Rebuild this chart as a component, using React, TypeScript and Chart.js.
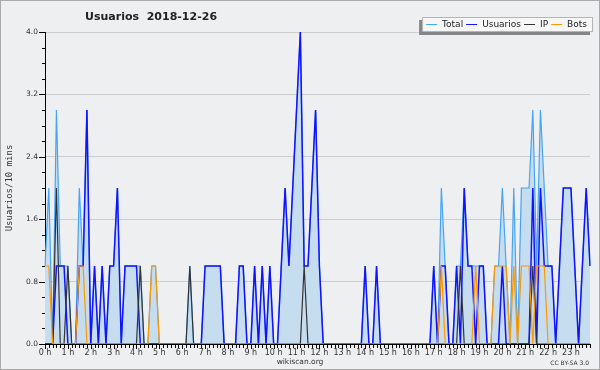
import React, { useEffect, useRef } from 'react';
import { Chart, registerables } from 'chart.js';

Chart.register(...registerables);

// ---- data (one value per 10 minutes, 24 rows of 6) ----
const hourLabels = Array.from({ length: 24 }, (_, h) => `${h} h`);
const slotLabels = Array.from({ length: 144 }, (_, i) => `${Math.floor(i / 6)}:${(i % 6) * 10}`);

const total = [
  1, 2, 0, 3, 1, 1,
  1, 0, 0, 2, 1, 3,
  0, 1, 0, 1, 0, 1,
  1, 2, 0, 1, 1, 1,
  1, 1, 0, 0, 1, 1,
  0, 0, 0, 0, 0, 0,
  0, 0, 1, 0, 0, 0,
  1, 1, 1, 1, 1, 0,
  0, 0, 0, 1, 1, 0,
  0, 1, 0, 1, 0, 1,
  0, 0, 1, 2, 1, 2,
  3, 4, 1, 1, 2, 3,
  1, 0, 0, 0, 0, 0,
  0, 0, 0, 0, 0, 0,
  1, 0, 0, 1, 0, 0,
  0, 0, 0, 0, 0, 0,
  0, 0, 0, 0, 0, 0,
  1, 0, 2, 1, 0, 0,
  1, 1, 2, 1, 1, 1,
  1, 1, 0, 0, 1, 1,
  2, 1, 0, 2, 0, 2,
  2, 2, 3, 1, 3, 2,
  1, 1, 0, 1, 2, 2,
  2, 1, 0, 1, 2, 1,
];

const usuarios = [
  0, 0, 0, 1, 1, 1,
  0, 0, 0, 1, 1, 3,
  0, 1, 0, 1, 0, 1,
  1, 2, 0, 1, 1, 1,
  1, 0, 0, 0, 0, 0,
  0, 0, 0, 0, 0, 0,
  0, 0, 0, 0, 0, 0,
  1, 1, 1, 1, 1, 0,
  0, 0, 0, 1, 1, 0,
  0, 1, 0, 1, 0, 1,
  0, 0, 1, 2, 1, 2,
  3, 4, 1, 1, 2, 3,
  1, 0, 0, 0, 0, 0,
  0, 0, 0, 0, 0, 0,
  1, 0, 0, 1, 0, 0,
  0, 0, 0, 0, 0, 0,
  0, 0, 0, 0, 0, 0,
  1, 0, 1, 1, 0, 0,
  1, 0, 2, 1, 1, 0,
  1, 1, 0, 0, 0, 0,
  1, 0, 0, 0, 0, 0,
  0, 0, 2, 0, 2, 1,
  1, 1, 0, 1, 2, 2,
  2, 1, 0, 1, 2, 1,
];

const ip = [
  0, 0, 0, 2, 0, 0,
  1, 0, 0, 0, 0, 0,
  0, 0, 0, 0, 0, 0,
  0, 0, 0, 0, 0, 0,
  0, 1, 0, 0, 0, 0,
  0, 0, 0, 0, 0, 0,
  0, 0, 1, 0, 0, 0,
  0, 0, 0, 0, 0, 0,
  0, 0, 0, 0, 0, 0,
  0, 0, 0, 0, 0, 0,
  0, 0, 0, 0, 0, 0,
  0, 0, 1, 0, 0, 0,
  0, 0, 0, 0, 0, 0,
  0, 0, 0, 0, 0, 0,
  0, 0, 0, 0, 0, 0,
  0, 0, 0, 0, 0, 0,
  0, 0, 0, 0, 0, 0,
  0, 0, 0, 0, 0, 0,
  0, 1, 0, 0, 0, 0,
  0, 0, 0, 0, 0, 0,
  0, 0, 0, 0, 0, 0,
  0, 0, 1, 0, 0, 0,
  0, 0, 0, 0, 0, 0,
  0, 0, 0, 0, 0, 0,
];

const bots = [
  1, 1, 0, 0, 0, 0,
  0, 0, 0, 1, 1, 0,
  0, 0, 0, 0, 0, 0,
  0, 0, 0, 0, 0, 0,
  0, 0, 0, 0, 1, 1,
  0, 0, 0, 0, 0, 0,
  0, 0, 0, 0, 0, 0,
  0, 0, 0, 0, 0, 0,
  0, 0, 0, 0, 0, 0,
  0, 0, 0, 0, 0, 0,
  0, 0, 0, 0, 0, 0,
  0, 0, 0, 0, 0, 0,
  0, 0, 0, 0, 0, 0,
  0, 0, 0, 0, 0, 0,
  0, 0, 0, 0, 0, 0,
  0, 0, 0, 0, 0, 0,
  0, 0, 0, 0, 0, 0,
  0, 0, 1, 0, 0, 0,
  0, 0, 0, 0, 0, 1,
  0, 0, 0, 0, 1, 1,
  1, 1, 0, 1, 0, 1,
  1, 1, 0, 1, 1, 1,
  0, 0, 0, 0, 0, 0,
  0, 0, 0, 0, 0, 0,
];

const seriesNames = ['Total', 'Usuarios', 'IP', 'Bots'];
const Y_MAX = 4;
const Y_MAJOR = 0.8;
const Y_MINOR = 0.2;
const TITLE = 'Usuarios  2018-12-26';
const Y_TITLE = 'Usuarios/10 mins';
const FOOTER = 'wikiscan.org';
const LICENSE = 'CC BY-SA 3.0';

const BG = '#eeeff1';
const COLORS = ['#45a4f6', '#1212ff', '#333333', '#ff9900'];
const FILL = '#c6dcef';

const decorPlugin = {
  id: 'decor',
  beforeDraw(chart: any) {
    const { ctx, width, height } = chart;
    ctx.save();
    ctx.fillStyle = BG;
    ctx.fillRect(0, 0, width, height);
    ctx.restore();
  },
  afterDraw(chart: any) {
    const { ctx, chartArea, scales, width, height } = chart;
    const xs = scales.x;
    const ys = scales.y;
    ctx.save();
    // tick marks
    ctx.strokeStyle = '#000';
    ctx.lineWidth = 1;
    ctx.beginPath();
    const nMinor = Math.round(Y_MAX / Y_MINOR);
    const perMajor = Math.round(Y_MAJOR / Y_MINOR);
    for (let k = 0; k <= nMinor; k++) {
      const y = Math.round(ys.getPixelForValue(k * Y_MINOR)) + 0.5;
      const len = k % perMajor === 0 ? 6 : 3;
      ctx.moveTo(chartArea.left - len, y);
      ctx.lineTo(chartArea.left, y);
    }
    for (let i = 0; i < slotLabels.length; i++) {
      const x = Math.round(xs.getPixelForValue(i)) + 0.5;
      const len = i % 6 === 0 ? 5 : 4;
      ctx.moveTo(x, chartArea.bottom);
      ctx.lineTo(x, chartArea.bottom + len);
    }
    ctx.stroke();

    // title
    ctx.fillStyle = '#222';
    ctx.font = 'bold 11px "DejaVu Sans"';
    ctx.textBaseline = 'alphabetic';
    ctx.textAlign = 'left';
    ctx.fillText(TITLE, 85, 20);

    // legend
    ctx.font = '9px "DejaVu Sans"';
    const sampleW = 11, gap1 = 5, gap2 = 3;
    const items = chart.data.datasets.map((d: any) => ({ label: d.label, color: d.borderColor }));
    let contentW = 0;
    items.forEach((it: any, idx: number) => {
      contentW += sampleW + gap1 + ctx.measureText(it.label).width + (idx < items.length - 1 ? gap2 : 0);
    });
    const bw = contentW + 10;
    const bh = 15;
    const bx = 593 - bw;
    const by = 17;
    ctx.fillStyle = '#858585';
    ctx.fillRect(bx - 3, by + 3, bw, bh);
    ctx.fillStyle = '#f7f7f7';
    ctx.fillRect(bx, by, bw, bh);
    ctx.strokeStyle = '#b4b4b4';
    ctx.strokeRect(bx + 0.5, by + 0.5, bw - 1, bh - 1);
    let cx = bx + 4;
    const cy = by + 8;
    ctx.textBaseline = 'middle';
    items.forEach((it: any) => {
      ctx.strokeStyle = it.color;
      ctx.lineWidth = 1;
      ctx.beginPath();
      ctx.moveTo(cx, cy - 0.5);
      ctx.lineTo(cx + sampleW, cy - 0.5);
      ctx.stroke();
      cx += sampleW + gap1;
      ctx.fillStyle = '#222';
      ctx.fillText(it.label, cx, cy);
      cx += ctx.measureText(it.label).width + gap2;
    });

    // footer
    ctx.textBaseline = 'alphabetic';
    ctx.fillStyle = '#333';
    ctx.font = '7.5px "DejaVu Sans"';
    ctx.textAlign = 'center';
    ctx.fillText(FOOTER, 300, 364);
    ctx.font = '6px "DejaVu Sans"';
    ctx.textAlign = 'right';
    ctx.fillText(LICENSE, 589, 365);

    // outer border
    ctx.strokeStyle = '#aaaaaa';
    ctx.lineWidth = 1;
    ctx.strokeRect(0.5, 0.5, width - 1, height - 1);
    ctx.restore();
  },
};

export default function App() {
  const ref = useRef<HTMLCanvasElement | null>(null);

  useEffect(() => {
    document.body.style.margin = '0';
    const canvas = ref.current;
    if (!canvas) return;
    Chart.defaults.font.family = '"DejaVu Sans"';
    const seriesData = [total, usuarios, ip, bots];
    const chart = new Chart(canvas, {
      type: 'line',
      data: {
        labels: slotLabels,
        datasets: seriesData.map((d, k) => ({
          label: seriesNames[k],
          data: d,
          borderColor: COLORS[k],
          backgroundColor: k === 0 ? FILL : COLORS[k],
          fill: k === 0 ? 'origin' : false,
          borderWidth: k === 1 ? 1.5 : 1.2,
          pointRadius: 0,
          tension: 0,
          order: 4 - k,
        })),
      },
      options: {
        responsive: false,
        devicePixelRatio: 1,
        animation: false,
        layout: { padding: { top: 32, right: 10, bottom: 0, left: 0 } },
        plugins: {
          legend: { display: false },
          title: { display: false },
          tooltip: { enabled: false },
        },
        scales: {
          x: {
            type: 'category',
            offset: false,
            afterFit: (s: any) => { s.height = 26; },
            grid: { drawOnChartArea: false, drawTicks: false },
            border: { color: '#000', width: 1 },
            ticks: {
              autoSkip: false,
              maxRotation: 0,
              minRotation: 0,
              padding: 4,
              color: '#333',
              font: { size: 8 },
              callback: (_v: any, idx: number) => (idx % 6 === 0 ? hourLabels[idx / 6] : ''),
            },
          },
          y: {
            min: 0,
            max: Y_MAX,
            afterFit: (s: any) => { s.width = 45; },
            grid: { color: '#cdcdcd', drawTicks: false },
            border: { color: '#000', width: 1 },
            ticks: {
              stepSize: Y_MAJOR,
              padding: 7,
              color: '#333',
              font: { size: 7.5 },
              callback: (v: any) => Number(v).toFixed(1),
            },
            title: {
              display: true,
              text: Y_TITLE,
              color: '#333',
              font: { family: '"DejaVu Sans Mono"', size: 9 },
              padding: { top: 4, bottom: 0 },
            },
          },
        },
      },
      plugins: [decorPlugin],
    });
    return () => chart.destroy();
  }, []);

  return <canvas ref={ref} width={600} height={370} style={{ display: 'block' }} />;
}
